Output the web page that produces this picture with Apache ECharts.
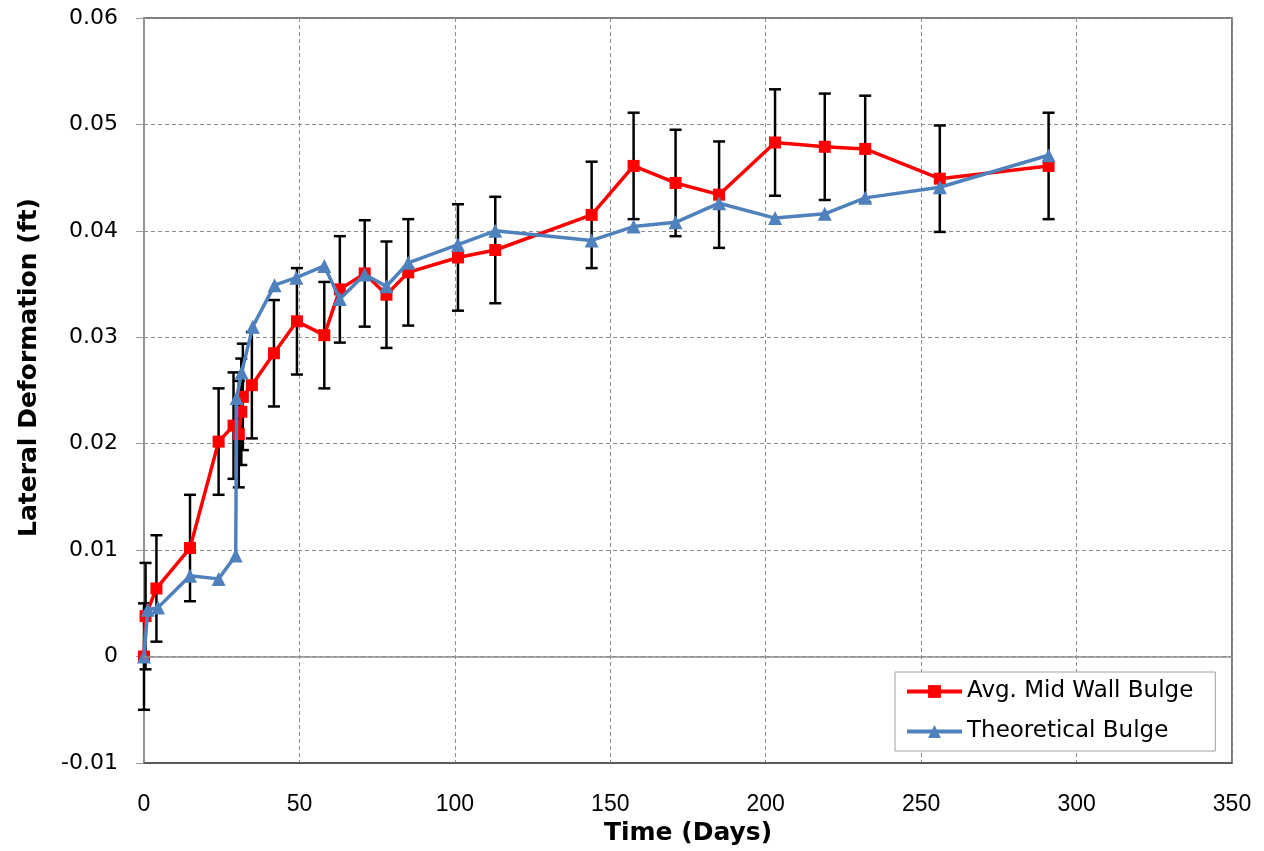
<!DOCTYPE html>
<html>
<head>
<meta charset="utf-8">
<script src="https://cdn.jsdelivr.net/npm/echarts@6/dist/echarts.min.js"></script>
<style>
  html, body { margin: 0; padding: 0; background: #fff; }
  #chart { width: 1264px; height: 851px; }
</style>
</head>
<body>
<div id="chart"></div>
<script>
// measured bulge (avg of mid wall gauges), with +/- error
var avgDays = [0, 0.5, 4, 14.8, 24, 28.8, 30.5, 31.3, 31.8, 34.7, 41.8, 49.2, 58, 63, 71, 78, 85, 101, 113, 144, 157.5, 171, 185, 203, 219, 232, 256, 291];
var avgBulge = [0, 0.0038, 0.0064, 0.0102, 0.0202, 0.0217, 0.0209, 0.0230, 0.0244, 0.0255, 0.0285, 0.0315, 0.0302, 0.0345, 0.0360, 0.0340, 0.0361, 0.0375, 0.0382, 0.0415, 0.0461, 0.0445, 0.0434, 0.0483, 0.0479, 0.0477, 0.0449, 0.0461];
var avgError = [0.005, 0.005, 0.005, 0.005, 0.005, 0.005, 0.005, 0.005, 0.005, 0.005, 0.005, 0.005, 0.005, 0.005, 0.005, 0.005, 0.005, 0.005, 0.005, 0.005, 0.005, 0.005, 0.005, 0.005, 0.005, 0.005, 0.005, 0.005];

// theoretical bulge
var theoDays = [0, 1.2, 4.5, 14.8, 24, 29.5, 29.8, 31.4, 35, 42, 49, 58, 63, 71, 78, 85, 101, 113, 144, 157.5, 171, 185, 203, 219, 232, 256, 291];
var theoBulge = [0, 0.0044, 0.0046, 0.0076, 0.0073, 0.0095, 0.0243, 0.0267, 0.0310, 0.0349, 0.0356, 0.0367, 0.0336, 0.0359, 0.0348, 0.0370, 0.0387, 0.0400, 0.0391, 0.0404, 0.0408, 0.0426, 0.0412, 0.0416, 0.0431, 0.0441, 0.0471];

var seriesNames = ['Avg. Mid Wall Bulge', 'Theoretical Bulge'];

var wide = "'DejaVu Sans', Verdana, sans-serif";
var regular = "'Liberation Sans', Arial, sans-serif";

var avgData = avgDays.map(function (d, i) { return [d, avgBulge[i]]; });
var theoData = theoDays.map(function (d, i) { return [d, theoBulge[i]]; });
var errData = avgDays.map(function (d, i) { return [d, avgBulge[i] - avgError[i], avgBulge[i] + avgError[i]]; });

function renderErr(params, api) {
    var x = api.value(0);
    var lo = api.coord([x, api.value(1)]);
    var hi = api.coord([x, api.value(2)]);
    var w = 6;
    var st = { stroke: '#000', lineWidth: 2.5 };
    return {
        type: 'group',
        children: [
            { type: 'line', shape: { x1: lo[0], y1: lo[1], x2: hi[0], y2: hi[1] }, style: st },
            { type: 'line', shape: { x1: hi[0] - w, y1: hi[1], x2: hi[0] + w, y2: hi[1] }, style: st },
            { type: 'line', shape: { x1: lo[0] - w, y1: lo[1], x2: lo[0] + w, y2: lo[1] }, style: st }
        ]
    };
}

var option = {
    animation: false,
    backgroundColor: '#fff',
    grid: {
        left: 144,
        right: 32,
        top: 18,
        bottom: 88,
        containLabel: false,
        outerBoundsMode: 'none',
        show: true,
        borderColor: '#505050',
        borderWidth: 1.5
    },
    legend: {
        data: seriesNames,
        orient: 'vertical',
        left: 895,
        top: 672,
        padding: [8, 22, 8, 10],
        itemGap: 17,
        itemWidth: 55,
        itemHeight: 16,
        backgroundColor: '#fff',
        borderColor: '#a0a0a0',
        borderWidth: 1,
        lineStyle: { width: 4 },
        textStyle: {
            fontFamily: wide,
            fontSize: 23,
            color: '#000'
        }
    },
    xAxis: {
        type: 'value',
        min: 0,
        max: 350,
        interval: 50,
        name: 'Time (Days)',
        nameLocation: 'middle',
        nameGap: 57,
        nameTextStyle: { fontFamily: wide, fontWeight: 'bold', fontSize: 25, color: '#000' },
        axisLine: { show: true, onZero: false, lineStyle: { color: '#505050', width: 1.5 } },
        axisTick: { show: false },
        axisLabel: { margin: 30, fontFamily: regular, fontSize: 23, color: '#000' },
        splitLine: { show: true, lineStyle: { color: '#8c8c8c', type: [4, 3], width: 1 } }
    },
    yAxis: {
        type: 'value',
        min: -0.01,
        max: 0.06,
        interval: 0.01,
        name: 'Lateral Deformation (ft)',
        nameLocation: 'middle',
        nameGap: 102,
        nameTextStyle: { fontFamily: wide, fontWeight: 'bold', fontSize: 25, color: '#000', padding: [0, 0, 0, 46] },
        axisLine: { show: true, lineStyle: { color: '#9a9a9a', width: 1.5 } },
        axisTick: { show: true, length: 8, lineStyle: { color: '#9a9a9a' } },
        axisLabel: {
            margin: 26,
            fontFamily: wide,
            fontSize: 22,
            color: '#000',
            formatter: function (v) { return String(+v.toFixed(2)); }
        },
        splitLine: { show: true, lineStyle: { color: '#8c8c8c', type: [4, 3], width: 1 } }
    },
    series: [
        {
            name: 'errors',
            type: 'custom',
            renderItem: renderErr,
            encode: { x: 0, y: [1, 2] },
            data: errData,
            z: 2,
            silent: true
        },
        {
            name: seriesNames[0],
            type: 'line',
            data: avgData,
            symbol: 'rect',
            symbolSize: 12,
            color: '#ff0000',
            lineStyle: { color: '#ff0000', width: 3.5 },
            itemStyle: { color: '#ff0000' },
            z: 3,
            markLine: {
                silent: true,
                symbol: 'none',
                label: { show: false },
                lineStyle: { color: '#8c8c8c', type: 'solid', width: 1.5 },
                data: [{ yAxis: 0 }]
            }
        },
        {
            name: seriesNames[1],
            type: 'line',
            data: theoData,
            symbol: 'triangle',
            symbolSize: 14,
            color: '#4f81bd',
            lineStyle: { color: '#4f81bd', width: 3.5 },
            itemStyle: { color: '#4f81bd' },
            z: 4
        }
    ]
};

var chart = echarts.init(document.getElementById('chart'));
chart.setOption(option);
</script>
</body>
</html>
